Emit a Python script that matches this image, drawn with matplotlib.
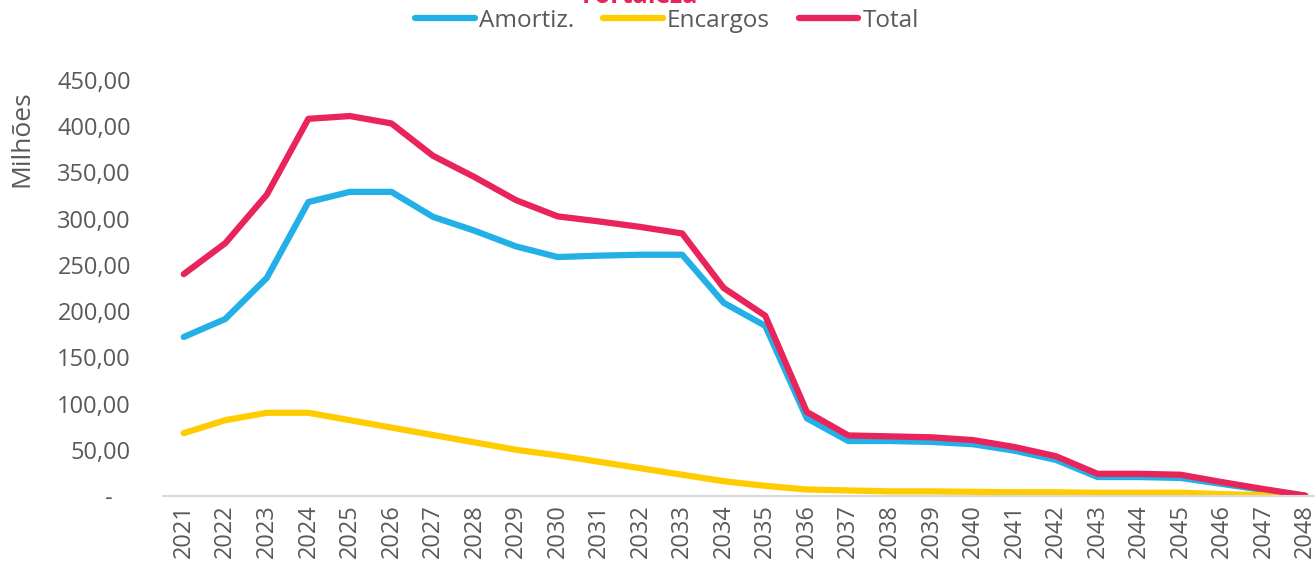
import matplotlib.pyplot as plt
from matplotlib.ticker import FuncFormatter, MultipleLocator

anos = list(range(2021, 2049))
amortiz = [172, 191.5, 236, 318, 329, 329, 302, 287, 270, 258.5,
           260, 261, 261, 209, 184, 84, 59.5, 59.5, 58.5, 56,
           49, 39, 20.5, 20.5, 19.5, 13, 6.5, 0]
encargos = [68, 82, 90, 90, 82, 74, 66, 58, 50, 44,
            37, 30, 23, 16, 11, 7, 6, 5, 5, 4.5,
            4, 4, 3.5, 3.5, 3.5, 2, 1, 0.5]
total = [a + e for a, e in zip(amortiz, encargos)]

AZUL = '#22b0e6'
AMARELO = '#ffcc00'
VERMELHO = '#e8245a'
CINZA = '#595959'

plt.rcParams['font.family'] = ['Open Sans', 'DejaVu Sans']

W, H = 1315, 571
fig = plt.figure(figsize=(W / 100, H / 100), dpi=100)
ax = fig.add_axes([163 / W, (H - 496) / H, (1326 - 163) / W, (496 - 80) / H])

ax.plot(anos, amortiz, color=AZUL, lw=4.5, label='Amortiz.', solid_capstyle='round')
ax.plot(anos, encargos, color=AMARELO, lw=4.5, label='Encargos', solid_capstyle='round')
ax.plot(anos, total, color=VERMELHO, lw=4.5, label='Total', solid_capstyle='round')

ax.set_xlim(2020.5, 2048.5)
ax.set_ylim(0, 450)
ax.yaxis.set_major_locator(MultipleLocator(50))
ax.set_xticks(anos)
ax.set_xticklabels([str(a) for a in anos], rotation=90)


def fmt(v, pos):
    if v == 0:
        return '-   '
    return f'{v:,.2f}'.replace(',', 'X').replace('.', ',').replace('X', '.')


ax.yaxis.set_major_formatter(FuncFormatter(fmt))
ax.tick_params(axis='both', length=0, labelsize=17, colors=CINZA)
ax.tick_params(axis='y', pad=23)
ax.tick_params(axis='x', pad=6)

for s in ['top', 'right', 'left']:
    ax.spines[s].set_visible(False)
ax.spines['bottom'].set_color('#d9d9d9')
ax.spines['bottom'].set_linewidth(1.5)

ax.set_ylabel('Milhões', fontsize=19, color=CINZA)
ax.yaxis.set_label_coords(-(163 - 34) / (1326 - 163), (496 - 139) / (496 - 80))

fig.text(640 / W, 1 - 3 / H, 'Fortaleza', ha='center', va='baseline',
         fontsize=18, fontweight='bold', color=VERMELHO)

fig.legend(loc='center', bbox_to_anchor=(667 / W, 1 - 21 / H), ncol=3, frameon=False,
           fontsize=17.5, labelcolor=CINZA, handlelength=2.45, handletextpad=0.16,
           columnspacing=1.2)

fig.savefig('out.png', dpi=100)
